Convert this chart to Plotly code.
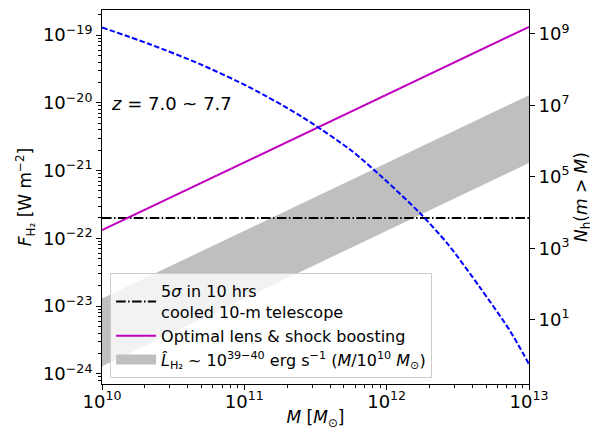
import plotly.graph_objects as go

# ---- data ----
mass_range = [1e10, 1e13]
detect_limit = [2e-22, 2e-22]                 # 5 sigma, 10 hrs, cooled 10-m telescope
boost_flux = [1.32e-22, 1.32e-19]             # optimal lens & shock boosting
band_low = [1.29e-24, 1.29e-21]               # L_H2 ~ 1e39 (M/1e10)
band_high = [1.29e-23, 1.29e-20]              # L_H2 ~ 1e40 (M/1e10)

halo_mass = [1.0e10, 2.17e10, 4.89e10, 1.10e11, 2.46e11, 5.53e11,
             9.42e11, 1.71e12, 2.70e12, 4.53e12, 7.36e12, 1.0e13]
halo_number = [1.50e9, 5.09e8, 1.41e8, 3.10e7, 5.12e6, 5.75e5,
               9.25e4, 9.62e3, 1.28e3, 79.0, 4.83, 0.571]

x_ticks = [1e10, 1e11, 1e12, 1e13]
x_ticktext = ["10<sup>10</sup>", "10<sup>11</sup>", "10<sup>12</sup>", "10<sup>13</sup>"]
y_ticks = [1e-24, 1e-23, 1e-22, 1e-21, 1e-20, 1e-19]
y_ticktext = ["10<sup>−24</sup>", "10<sup>−23</sup>", "10<sup>−22</sup>",
              "10<sup>−21</sup>", "10<sup>−20</sup>", "10<sup>−19</sup>"]
y2_ticks = [1e1, 1e3, 1e5, 1e7, 1e9]
y2_ticktext = ["10<sup>1</sup>", "10<sup>3</sup>", "10<sup>5</sup>", "10<sup>7</sup>", "10<sup>9</sup>"]

FONT = "DejaVu Sans"
BAND = "#bfbfbf"

def minor_vals(lo, hi):
    vals = []
    for e in range(lo, hi + 1):
        for k in range(2, 10):
            vals.append(k * 10.0 ** e)
    return vals

fig = go.Figure()

fig.add_trace(go.Scatter(
    x=mass_range, y=band_low, mode="lines", line=dict(width=0, color=BAND),
    showlegend=False, hoverinfo="skip"))
fig.add_trace(go.Scatter(
    x=mass_range, y=band_high, mode="lines", line=dict(width=0, color=BAND),
    fill="tonexty", fillcolor=BAND, showlegend=False, hoverinfo="skip"))
fig.add_trace(go.Scatter(
    x=mass_range, y=detect_limit, mode="lines",
    line=dict(color="black", width=2, dash="9.6px,2.4px,1.5px,2.4px"),
    name="5<i>σ</i> in 10 hrs<br>cooled 10-m telescope"))
fig.add_trace(go.Scatter(
    x=mass_range, y=boost_flux, mode="lines",
    line=dict(color="#bf00bf", width=2),
    name="Optimal lens & shock boosting"))
# legend entry for the shaded band (drawn as a wide patch)
fig.add_trace(go.Scatter(
    x=[None], y=[None], mode="lines", line=dict(color=BAND, width=14),
    name="<i>L̂</i><sub>H₂</sub> ~ 10<sup>39−40</sup> erg s<sup>−1</sup> (<i>M</i>/10<sup>10</sup> <i>M</i><sub>⊙</sub>)"))
fig.add_trace(go.Scatter(
    x=halo_mass, y=halo_number, mode="lines", yaxis="y2",
    line=dict(color="#0000ff", width=2, dash="5.5px,2.4px", shape="spline", smoothing=0.8),
    showlegend=False))

axis_common = dict(
    type="log", showgrid=False, zeroline=False, showline=True, linecolor="black",
    linewidth=1, ticks="outside", ticklen=5, tickwidth=1, tickcolor="black",
    tickfont=dict(family=FONT, size=18, color="black"))

fig.update_layout(
    width=590, height=429,
    margin=dict(l=94, r=69, t=1.5, b=53),
    paper_bgcolor="white", plot_bgcolor="white",
    font=dict(family=FONT, color="black"),
    xaxis=dict(**axis_common, range=[10, 13], mirror=True,
               tickmode="array", tickvals=x_ticks, ticktext=x_ticktext,
               ticklabelstandoff=-4,
               minor=dict(tickmode="array", tickvals=minor_vals(10, 12), ticks="outside",
                          ticklen=3, tickwidth=1, tickcolor="black"),
               title=dict(text="<i>M</i> [<i>M</i><sub>⊙</sub>]",
                          font=dict(family=FONT, size=17), standoff=0)),
    yaxis=dict(**axis_common, range=[-24.15, -18.63],
               tickmode="array", tickvals=y_ticks, ticktext=y_ticktext,
               minor=dict(tickmode="array", tickvals=minor_vals(-25, -19), ticks="outside",
                          ticklen=3, tickwidth=1, tickcolor="black"),
               title=dict(text="<i>F</i><sub>H₂</sub> [W m<sup>−2</sup>]",
                          font=dict(family=FONT, size=17), standoff=6)),
    yaxis2=dict(**axis_common, range=[-0.80, 9.665], overlaying="y", side="right",
                tickmode="array", tickvals=y2_ticks, ticktext=y2_ticktext,
                title=dict(text="<i>N</i><sub>h</sub>(<i>m</i> > <i>M</i>)",
                           font=dict(family=FONT, size=17), standoff=6)),
    legend=dict(x=0.019, y=0.296, xanchor="left", yanchor="top", traceorder="normal",
                bgcolor="rgba(255,255,255,0.8)", bordercolor="#cccccc", borderwidth=1,
                font=dict(family=FONT, size=16, color="black"),
                tracegroupgap=0, itemwidth=40),
    annotations=[dict(text="<i>z</i> = 7.0 ~ 7.7", xref="paper", yref="paper",
                      x=0.017, y=0.75, xanchor="left", yanchor="middle", showarrow=False,
                      font=dict(family=FONT, size=18, color="black"))],
)

fig.write_html("out.html")
